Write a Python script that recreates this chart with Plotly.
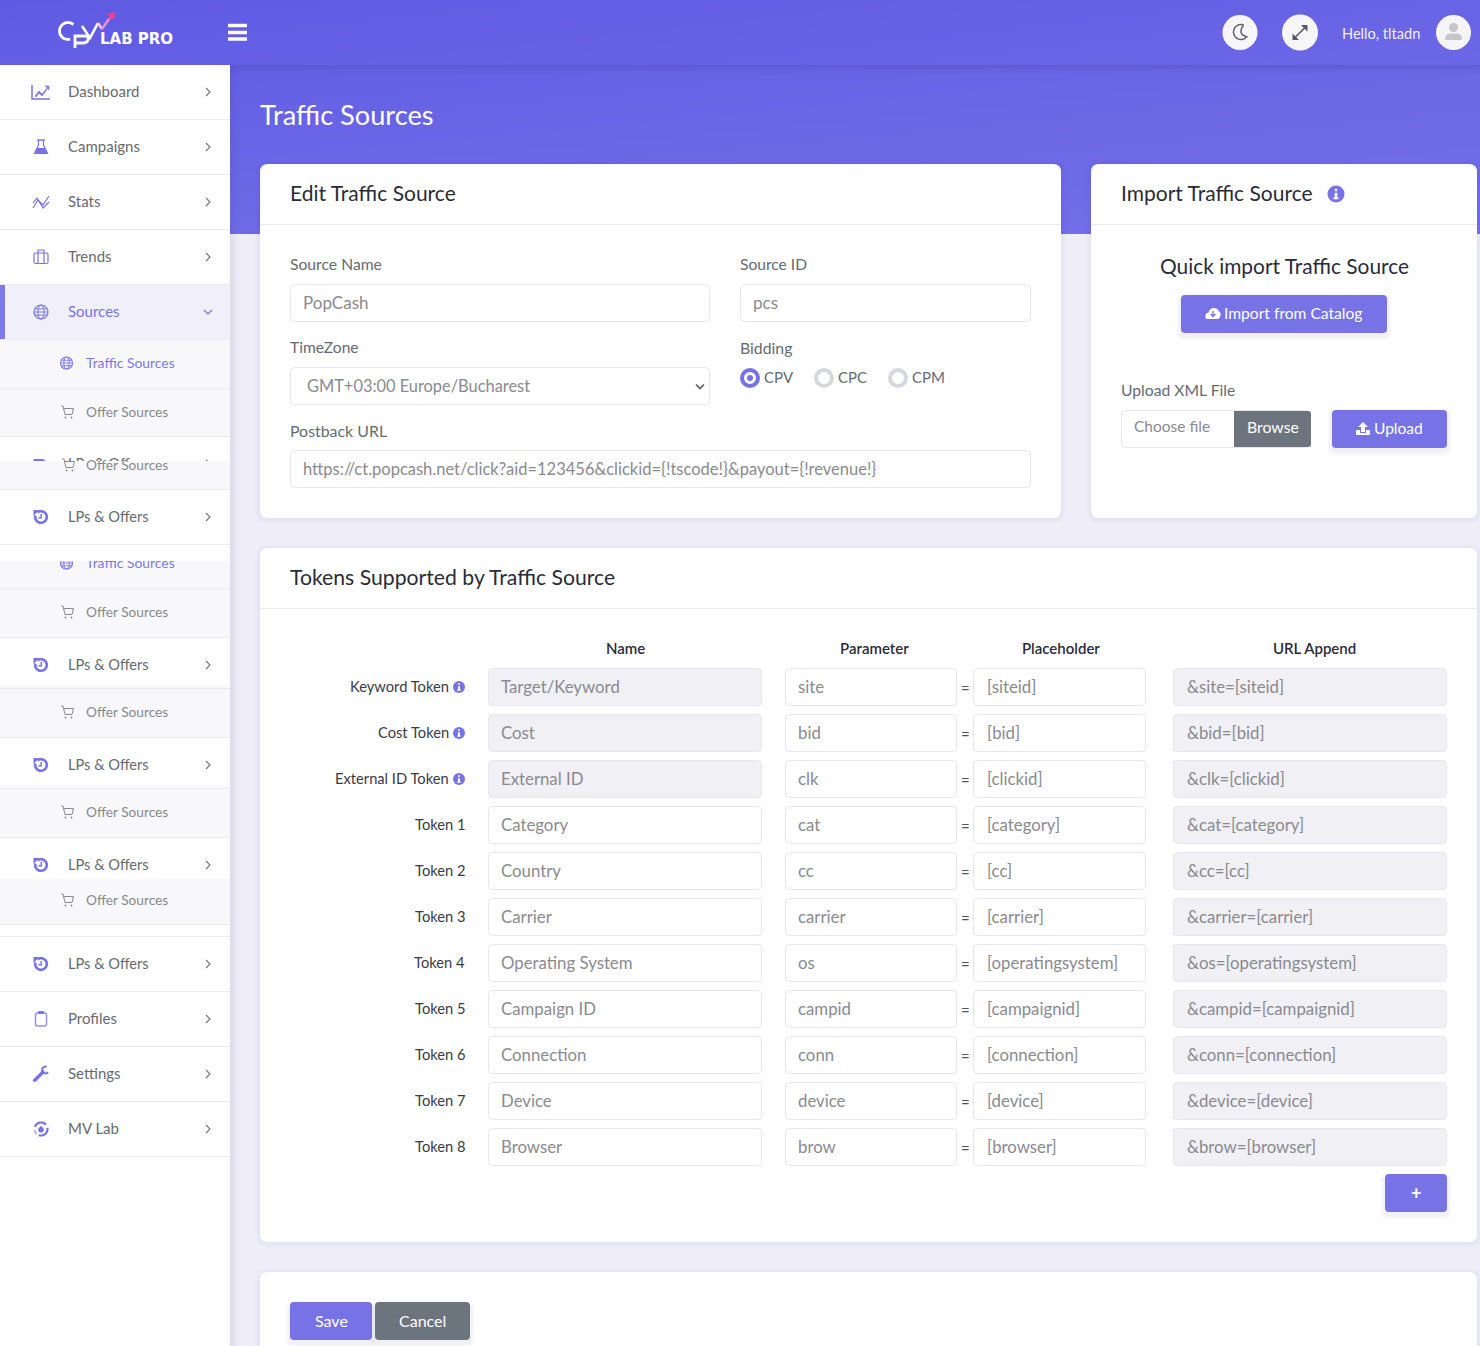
import math
import plotly.graph_objects as go

# ---------- page content (text only) ----------
page_title = "Traffic Sources"
user_greeting = "Hello, tltadn"
logo_text = "LAB PRO"
nav_top = ["Dashboard", "Campaigns", "Stats", "Trends", "Sources"]
nav_bottom = ["Profiles", "Settings", "MV Lab"]
nav_repeat = "LPs & Offers"
sub_traffic = "Traffic Sources"
sub_offer = "Offer Sources"
card_titles = ["Edit Traffic Source", "Import Traffic Source", "Tokens Supported by Traffic Source"]
source_name = "PopCash"
source_id = "pcs"
timezone_value = "GMT+03:00 Europe/Bucharest"
postback_url = "https://ct.popcash.net/click?aid=123456&clickid={!tscode!}&payout={!revenue!}"
bidding_options = ["CPV", "CPC", "CPM"]
table_headers = ["Name", "Parameter", "Placeholder", "URL Append"]
token_labels = ["Keyword Token", "Cost Token", "External ID Token", "Token 1", "Token 2", "Token 3",
                "Token 4", "Token 5", "Token 6", "Token 7", "Token 8"]
token_names = ["Target/Keyword", "Cost", "External ID", "Category", "Country", "Carrier",
               "Operating System", "Campaign ID", "Connection", "Device", "Browser"]
token_params = ["site", "bid", "clk", "cat", "cc", "carrier", "os", "campid", "conn", "device", "brow"]
token_holders = ["[siteid]", "[bid]", "[clickid]", "[category]", "[cc]", "[carrier]",
                 "[operatingsystem]", "[campaignid]", "[connection]", "[device]", "[browser]"]

# ---------- styling ----------
FONT = "Lato"
W, H = 1480, 1346
PURPLE = "#7773e6"
GREY_BTN = "#6c757d"
PAGE = "#eeedf8"
SUB = "#f8f8fb"
ACTIVE = "#f1f0fa"
DIV = "#e9e9ee"
BORDER = "#e6e6ec"
READONLY = "#f0f0f5"
INK = "#2b2b38"
LABEL = "#666a70"
VALUE = "#8a8a8f"

shapes, annos = [], []


def rect(x0, y0, x1, y1, fill, layer="above", line=None, lw=1):
    shapes.append(dict(type="rect", xref="x", yref="y", x0=x0, y0=y0, x1=x1, y1=y1, fillcolor=fill,
                       layer=layer, line=dict(color=line, width=lw) if line else dict(width=0)))


def rr_path(x0, y0, x1, y1, r):
    return (f"M{x0+r},{y0} L{x1-r},{y0} Q{x1},{y0} {x1},{y0+r} L{x1},{y1-r} Q{x1},{y1} {x1-r},{y1} "
            f"L{x0+r},{y1} Q{x0},{y1} {x0},{y1-r} L{x0},{y0+r} Q{x0},{y0} {x0+r},{y0} Z")


def path(d, fill=None, line=None, lw=1, layer="above"):
    s = dict(type="path", xref="x", yref="y", path=d, layer=layer,
             line=dict(color=line, width=lw) if line else dict(width=0))
    if fill:
        s["fillcolor"] = fill
    shapes.append(s)


def rrect(x0, y0, x1, y1, r, fill, line=None, lw=1, layer="above"):
    path(rr_path(x0, y0, x1, y1, r), fill=fill, line=line, lw=lw, layer=layer)


def circle(cx, cy, r, fill=None, line=None, lw=1, layer="above"):
    s = dict(type="circle", xref="x", yref="y", x0=cx-r, y0=cy-r, x1=cx+r, y1=cy+r, layer=layer,
             line=dict(color=line, width=lw) if line else dict(width=0))
    if fill:
        s["fillcolor"] = fill
    shapes.append(s)


def arc(cx, cy, r, a0, a1, n=24):
    pts = []
    for i in range(n + 1):
        a = math.radians(a0 + (a1 - a0) * i / n)
        pts.append((cx + r * math.cos(a), cy + r * math.sin(a)))
    return "M" + " L".join(f"{x:.2f},{y:.2f}" for x, y in pts)


def text(x, y, s, size=15, color=LABEL, anchor="left", weight=400, font=FONT, dy=-1):
    annos.append(dict(x=x, y=y + dy, xref="x", yref="y", text=s, showarrow=False, xanchor=anchor, yanchor="middle",
                      borderpad=0, borderwidth=0, align=anchor,
                      font=dict(family=font, size=size, color=color, weight=weight)))


def shadow(x0, y0, x1, y1, r=4, spread=5, dy=3, alpha=0.016):
    for i in range(spread, 0, -1):
        rrect(x0 - i, y0 - i + dy, x1 + i, y1 + i + dy, r + i, f"rgba(60,60,110,{alpha})")


def chevron(x, y, down=False, color="#77777c", layer="above"):
    d = f"M{x-4},{y-2} L{x},{y+2} L{x+4},{y-2}" if down else f"M{x-2},{y-4} L{x+2},{y} L{x-2},{y+4}"
    path(d, line=color, lw=1.2, layer=layer)


def info(cx, cy, r, bg=PURPLE):
    circle(cx, cy, r, fill=bg)
    rect(cx - r*0.14, cy - r*0.62, cx + r*0.14, cy - r*0.32, "white")
    rect(cx - r*0.16, cy - r*0.14, cx + r*0.16, cy + r*0.5, "white")
    rect(cx - r*0.3, cy + r*0.42, cx + r*0.3, cy + r*0.62, "white")


# ---------- icons ----------
ICON = "#7773e6"


def ic_chart(x, y):
    path(f"M{x-9},{y-7} L{x-9},{y+7} L{x+9},{y+7}", line=ICON, lw=1.5)
    path(f"M{x-6},{y+4} L{x-2},{y-1} L{x+1},{y+2} L{x+7},{y-5} L{x+8},{y-2} L{x+8},{y-6} L{x+4},{y-6} L{x+7},{y-4} "
         f"L{x+1},{y+4} L{x-2},{y+1} L{x-5},{y+5} Z", fill=ICON, line=ICON, lw=0.6)


def ic_flask(x, y):
    path(f"M{x-4},{y-7} L{x+4},{y-7}", line=ICON, lw=1.4)
    path(f"M{x-2.5},{y-7} L{x-2.5},{y-2} L{x-6.5},{y+6.5} L{x+6.5},{y+6.5} L{x+2.5},{y-2} L{x+2.5},{y-7}",
         line=ICON, lw=1.2)
    path(f"M{x-4},{y+1} L{x+4},{y+1} L{x+6.5},{y+6.5} L{x-6.5},{y+6.5} Z", fill=ICON)


def ic_stats(x, y):
    path(f"M{x-8},{y+6} L{x-3},{y-2} L{x+2},{y+3} L{x+8},{y-6}", line=ICON, lw=1.2)
    path(f"M{x-8},{y+1} L{x-4},{y-4} L{x+2},{y+6} L{x+8},{y}", line=ICON, lw=1.2)


def ic_case(x, y):
    rrect(x-7, y-4, x+7, y+6.5, 1.5, None, line=ICON, lw=1.2)
    path(f"M{x-3},{y-4} L{x-3},{y-7} L{x+3},{y-7} L{x+3},{y-4} M{x-3},{y-4} L{x-3},{y+6} M{x+3},{y-4} L{x+3},{y+6}",
         line=ICON, lw=1.2)


def ic_globe(x, y, r=7, color=ICON, layer="above"):
    circle(x, y, r, line=color, lw=1.2, layer=layer)
    shapes.append(dict(type="circle", xref="x", yref="y", x0=x-r*0.45, y0=y-r, x1=x+r*0.45, y1=y+r, layer=layer,
                       line=dict(color=color, width=1)))
    path(f"M{x-r},{y} L{x+r},{y} M{x-r*.85},{y-r*.45} L{x+r*.85},{y-r*.45} M{x-r*.85},{y+r*.45} L{x+r*.85},{y+r*.45}",
         line=color, lw=0.9, layer=layer)


def ic_cart(x, y, color="#88888d"):
    path(f"M{x-6},{y-6} L{x-4},{y-6} L{x-2},{y+2.5} L{x+5},{y+2.5} L{x+6.5},{y-3.5} L{x-3},{y-3.5}", line=color, lw=1)
    circle(x-1.5, y+5.5, 0.9, fill=color)
    circle(x+4.5, y+5.5, 0.9, fill=color)


def ic_history(x, y, layer="above"):
    path(arc(x, y, 5.8, -125, 195), line=ICON, lw=2.6, layer=layer)
    path(f"M{x-7.5},{y-7} L{x-1.5},{y-7} L{x-7.5},{y-1} Z", fill=ICON, layer=layer)
    path(f"M{x+0.3},{y-3} L{x+0.3},{y+0.8} L{x-2.5},{y+0.8}", line=ICON, lw=1.5, layer=layer)


def ic_clip(x, y):
    rrect(x-5.5, y-6, x+5.5, y+7, 2, None, line="#9592ec", lw=1.5)
    rrect(x-3, y-8, x+3, y-5, 1, ICON)


def ic_wrench(x, y):
    path(f"M{x-6},{y+6} L{x+3},{y-3}", line=ICON, lw=3.4)
    path(arc(x+4.5, y-4, 3.4, 40, 290), line=ICON, lw=2)
    circle(x-6.3, y+6.3, 1.8, fill=ICON)


def ic_mv(x, y):
    path(arc(x, y, 6.5, 200, 320), line=ICON, lw=2.2)
    path(arc(x, y, 6.5, 350, 470), line=ICON, lw=2.2)
    path(arc(x, y, 6.5, 130, 170), line="#9592ec", lw=1.4)
    circle(x, y+0.8, 2.8, fill=ICON)
    path(f"M{x-2},{y} L{x},{y-3.6} L{x+2},{y} Z", fill=ICON)


# ---------- background ----------
rect(230, 234, W, H, PAGE)
for i in range(10):                          # header drop shadow
    rect(230, 65 + i, W, 66 + i, f"rgba(50,45,120,{0.16*(1-i/10)**1.6:.3f})")
for i in range(10):                          # sidebar drop shadow
    rect(230 + i, 65, 231 + i, H, f"rgba(50,50,90,{0.09*(1-i/10)**1.4:.3f})")

# ---------- sidebar ----------
for y0, y1, c in [(65, 285, "white"), (285, 340, ACTIVE), (340, 437, SUB), (461, 489, SUB), (489, 561, "white"),
                  (588, 637, SUB), (637, 685, "white"), (685, 737, SUB), (737, 785, "white"), (785, 837, SUB),
                  (837, 879, "white"), (879, 924, SUB), (924, H, "white")]:
    rect(0, y0, 230, y1, c)
rect(0, 561, 230, 588, SUB, layer="below")
rect(0, 285, 5, 340, "#7d79ea")
for y in [119.5, 174.5, 229.5, 284.5, 339.5, 388.5, 436.5, 489.5, 544.5, 588.5, 637.5, 688.5, 737.5, 788.5, 837.5,
          924.5, 936.5, 991.5, 1046.5, 1101.5, 1156.5]:
    rect(0, y - 0.5, 230, y + 0.5, DIV)

nav_icons = [ic_chart, ic_flask, ic_stats, ic_case, ic_globe]
for lab, y, ic in zip(nav_top, [92, 147, 202, 257, 312], nav_icons):
    ic(41, y)
    active = lab == "Sources"
    text(68, y, lab, 15, PURPLE if active else LABEL)
    chevron(208, y, down=active, color=PURPLE if active else "#77777c")

for y in [517, 665, 765, 865, 964]:
    ic_history(41, y)
    text(68, y, nav_repeat, 14.6, LABEL)
    chevron(208, y)
for lab, y, ic in zip(nav_bottom, [1019, 1074, 1129], [ic_clip, ic_wrench, ic_mv]):
    ic(41, y)
    text(68, y, lab, 15, LABEL)
    chevron(208, y)

ic_globe(66.5, 363, r=6, color="#7d79ea")
text(86, 363, sub_traffic, 13.9, "#7d79ea", dy=-0.7)
for y in [412, 612, 712, 812, 900]:
    ic_cart(67, y)
    text(86, y, sub_offer, 13.7, "#88888d", dy=-0.7)
ic_cart(68, 465)
text(86, 465, sub_offer, 13.7, "#88888d", dy=-0.7)

# half-hidden rows in the sidebar
ic_history(41, 466, layer="below")
chevron(208, 464, layer="below")
ic_globe(66.5, 563, r=6, color="#7d79ea", layer="below")
glitch = go.Scatter(x=[68, 86], y=[465, 564.5], mode="text", text=[nav_repeat, sub_traffic],
                    textposition="middle right", hoverinfo="skip", showlegend=False,
                    textfont=dict(family=FONT, size=[14.6, 13.9], color=[LABEL, "#7d79ea"]))

# ---------- header ----------
path("M228,25.5 L247,25.5 M228,32.5 L247,32.5 M228,39 L247,39", line="white", lw=3.4)
# logo
path(arc(68, 31, 8.5, -50, -285), line="white", lw=2.8)
path("M75,48 L75,36 L85,36 Q89,36 88,40 Q87,43 83,43 L76,43", line="white", lw=2.8)
path("M82,26 L90,38 L98,23", line="white", lw=2.6)
path("M98,23 L102,29", line="#f3c7e6", lw=2.4)
path("M102,29 L109,19", line="#f78fc8", lw=2.4)
path("M109,19 L112,16", line="#f2509f", lw=2.6)
path("M107,14 L115,12 L114,20 Z", fill="#ee3f95")
text(100, 38.5, logo_text, 15, "white", font="DejaVu Sans", weight=700, dy=0)
text(260, 115, page_title, 27.2, "white")
circle(1240, 32.5, 17.5, fill="#f6f6f8")
path(arc(1241, 32, 7.5, -70, -320) + " Q1237,34 1243.6,24.95", line="#606469", lw=1.5)
circle(1300, 32.5, 18, fill="#f6f6f8")
path("M1294,38.5 L1306,26.5", line="#55595e", lw=1.6)
path("M1301,25 L1307.5,25 L1307.5,31.5 Z M1292.5,33.5 L1292.5,40 L1299,40 Z", fill="#55595e")
text(1342, 33, user_greeting, 14.6, "#f1f0ff", dy=0)
circle(1453.5, 32.5, 17.5, fill="#f5f5f7")
circle(1453.5, 27.5, 4.5, fill="#c5c5cb")
path("M1445,40 Q1445,33.5 1450,33.5 L1457,33.5 Q1462,33.5 1462,40 Z", fill="#c5c5cb")

# ---------- cards ----------
for x0, y0, x1, y1 in [(260, 164, 1061, 518), (1091, 164, 1477, 518), (260, 548, 1477, 1242), (260, 1272, 1477, 1360)]:
    shadow(x0, y0, x1, y1, r=8, spread=5, dy=1, alpha=0.006)
    rrect(x0, y0, x1, y1, 8, "white")
rect(260, 224, 1061, 225, DIV)
rect(1091, 224, 1477, 225, DIV)
rect(260, 608, 1477, 609, DIV)
text(290, 194, card_titles[0], 21, INK, dy=-1.5)
text(1121, 194, card_titles[1], 21, INK, dy=-1.5)
info(1336, 194, 8.5)
text(290, 578, card_titles[2], 21.2, INK, dy=-1.5)


def field(x0, y0, x1, y1, fill="white"):
    rrect(x0 + .5, y0 + .5, x1 - .5, y1 - .5, 4, fill, line=BORDER, lw=1)


# left form
text(290, 265, "Source Name", 15.7, LABEL)
field(290, 284, 710, 322)
text(303, 303, source_name, 17, VALUE, dy=-0.7)
text(740, 265, "Source ID", 15.6, LABEL)
field(740, 284, 1031, 322)
text(753, 303, source_id, 17, VALUE, dy=-0.7)
text(290, 348, "TimeZone", 15.6, LABEL)
field(290, 367, 710, 405)
text(307, 386, timezone_value, 16.4, VALUE, dy=-0.7)
path("M696,384.5 L700,388.5 L704,384.5", line="#55595e", lw=1.6)
text(740, 348, "Bidding", 15.8, LABEL)
for i, (opt, cx) in enumerate(zip(bidding_options, [750, 824, 898])):
    if i == 0:
        circle(cx, 378, 8, fill="white", line=PURPLE, lw=4)
        circle(cx, 378, 3, fill=PURPLE)
    else:
        circle(cx, 378, 8, fill="white", line="#d5d8dc", lw=4)
    text(cx + 14, 377, opt, 15, LABEL, dy=-0.5)
text(290, 431, "Postback URL", 15.9, LABEL)
field(290, 450, 1031, 488)
text(303, 469, postback_url, 16.5, VALUE, dy=0)

# import card
text(1284, 267, "Quick import Traffic Source", 20.9, INK, anchor="center", dy=-1.2)
shadow(1181, 295, 1387, 333, r=4)
rrect(1181, 295, 1387, 333, 4, PURPLE)
path("M1207,319 Q1205,319 1205.5,315 Q1206,312.5 1208.5,312.5 Q1210,307.5 1214.5,308 Q1218,308.5 1219,311.5 "
     "Q1221,312 1220.5,315 Q1220,319 1217,319 Z", fill="white")
path("M1213,311 L1213,316.5 M1210.5,314 L1213,316.5 L1215.5,314", line=PURPLE, lw=1.3)
text(1224, 314, "Import from Catalog", 15.6, "white")
text(1121, 391, "Upload XML File", 15.7, LABEL)
field(1121, 410, 1311, 448)
rrect(1234, 411, 1311, 447, 3, GREY_BTN)
rect(1234, 411, 1240, 447, GREY_BTN)
text(1134, 427, "Choose file", 15.5, VALUE)
text(1273, 427, "Browse", 15.8, "white", anchor="center")
shadow(1332, 410, 1447, 448, r=4)
rrect(1332, 410, 1447, 448, 4, PURPLE)
path("M1363,422 L1368,427 L1365,427 L1365,432 L1361,432 L1361,427 L1358,427 Z", fill="white")
path("M1356,430 L1360,430 L1360,433 L1366,433 L1366,430 L1370,430 L1370,435 L1356,435 Z", fill="white")
text(1374, 429, "Upload", 15.5, "white")

# tokens table
for h, cx in zip(table_headers, [625, 874, 1061, 1314]):
    text(cx, 649, h, 15, INK, anchor="center", weight=600)

RO_ROWS = 3
for i, (lab, name, par, hold) in enumerate(zip(token_labels, token_names, token_params, token_holders)):
    y0 = 668 + 46 * i
    yc = y0 + 19
    ro = i < RO_ROWS
    text(449 if ro else 465, yc, lab, 14.7, "#3a3a44", anchor="right", dy=-0.7)
    if ro:
        info(459, yc, 6)
    field(488, y0, 762, y0 + 38, READONLY if ro else "white")
    text(501, yc, name, 16.8, VALUE, dy=-0.7)
    field(785, y0, 957, y0 + 38)
    text(798, yc, par, 16.8, VALUE, dy=-0.7)
    text(965, yc + 1, "=", 15, "#555", anchor="center", dy=0)
    field(973, y0, 1146, y0 + 38)
    text(987, yc, hold, 16.8, VALUE, dy=-0.7)
    field(1173, y0, 1447, y0 + 38, READONLY)
    text(1187, yc, f"&{par}={hold}", 16.8, VALUE, dy=-0.7)

shadow(1385, 1174, 1447, 1212, r=4)
rrect(1385, 1174, 1447, 1212, 4, PURPLE)
text(1416, 1193, "+", 18, "white", anchor="center", weight=700, dy=0)

shadow(290, 1302, 372, 1340, r=4)
rrect(290, 1302, 372, 1340, 4, PURPLE)
text(331, 1321, "Save", 16, "white", anchor="center")
shadow(375, 1302, 470, 1340, r=4)
rrect(375, 1302, 470, 1340, 4, GREY_BTN)
text(422.5, 1321, "Cancel", 16, "white", anchor="center")

# ---------- figure ----------
gradient = go.Heatmap(x=[0, W], y=[0, 234], z=[[0, 0.45], [0.7, 1]], zsmooth="best", showscale=False,
                      zmin=0, zmax=1, colorscale=[[0, "#5f5ae3"], [1, "#7370e8"]], hoverinfo="skip")
fig = go.Figure([gradient, glitch])
fig.update_layout(
    width=W, height=H, margin=dict(l=0, r=0, t=0, b=0, pad=0), autosize=False, showlegend=False,
    paper_bgcolor="white", plot_bgcolor="white", shapes=shapes, annotations=annos,
    xaxis=dict(range=[0, W], visible=False, fixedrange=True),
    yaxis=dict(range=[H, 0], visible=False, fixedrange=True),
)
fig.write_html("out.html", config=dict(displayModeBar=False),
               post_script="document.body.style.margin='0';document.body.style.overflow='hidden';")
